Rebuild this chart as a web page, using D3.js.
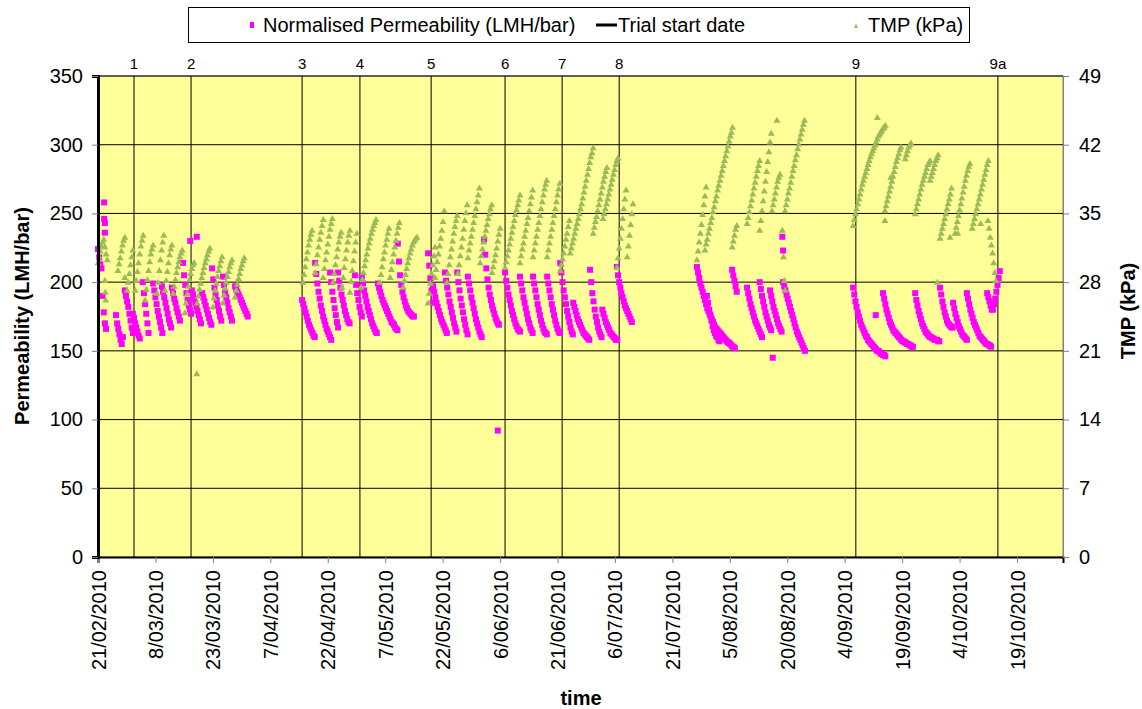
<!DOCTYPE html>
<meta charset="utf-8">
<head>
    <script type="text/javascript" src="https://cdn.jsdelivr.net/npm/d3@7"></script>
    <style>
        body { margin: 0; background: #fff; }
        text { font-family: Arial, "Liberation Sans", sans-serif; }
    </style>
    <title>Permeability and TMP</title>
</head>
<body>
<script>
    // ---- data ----
    // x values are days after 21/02/2010, logger samples every 0.3 day
    var startDate = new Date(2010, 1, 21);
    var lastDay = 252;
    var xTickDays = d3.range(0, 241, 15);
    var permTicks = [0, 50, 100, 150, 200, 250, 300, 350];
    var tmpTicks = [0, 7, 14, 21, 28, 35, 42, 49];
    var sampleStep = 0.3;

    var trialDays = [9.4, 24.3, 53.3, 68.4, 87.0, 106.3, 121.2, 136.1, 197.9, 235.0];
    var trialLabels = ["1", "2", "3", "4", "5", "6", "7", "8", "9", "9a"];

    // normalised permeability (LMH/bar), one run per filtration cycle
    var permStart = [0, 4.7, 7.0, 9.1, 11.7, 14.4, 16.7, 19.3, 22.2, 24.5, 27.2, 29.8, 32.6, 35.8,
        53.3, 56.7, 60.6, 62.7, 67.1, 68.9, 73.1, 78.3,
        86.2, 87.5, 90.6, 93.8, 96.6, 100.8, 106.3, 110.2, 113.6, 117.3, 120.7, 124.1, 128.5, 131.7, 135.5,
        156.4, 159.0, 165.6, 169.5, 172.8, 175.5, 178.9,
        197.2, 205.0, 213.4, 219.9, 223.3, 226.9, 232.2, 233.7];
    var permRuns = [
        [224, 218, 213, 210, 190, 178, 170, 166],
        [176, 170, 166, 162, 158, 155, 160],
        [194, 190, 186, 182, 177, 172, 167, 163],
        [177, 174, 170, 167, 164, 161, 159],
        [200, 192, 184, 177, 170, 163],
        [199, 194, 189, 184, 179, 175, 171, 167, 163],
        [197, 193, 189, 185, 181, 177, 173, 170, 167],
        [196, 192, 188, 185, 181, 178, 175, 172],
        [214, 205, 198, 192, 187, 183, 180, 177],
        [194, 191, 188, 185, 182, 179, 176, 173, 170],
        [192, 189, 186, 183, 180, 177, 174, 171, 169],
        [210, 202, 196, 191, 187, 183, 179, 175, 172],
        [204, 198, 193, 189, 185, 181, 178, 175, 172],
        [197, 195, 193, 191, 189, 187, 185, 183, 181, 179, 177, 175],
        [187, 184, 181, 178, 175, 172, 169, 167, 165, 163, 161, 160],
        [214, 206, 199, 193, 188, 183, 179, 175, 172, 169, 166, 164, 162, 160, 158],
        [207, 200, 193, 187, 181, 176, 171, 167],
        [207, 201, 196, 191, 187, 183, 179, 176, 173, 171, 170],
        [205, 198, 192, 187, 182, 178, 175],
        [204, 199, 194, 190, 186, 182, 179, 176, 173, 170, 168, 166, 164, 163],
        [199, 196, 193, 190, 187, 185, 183, 181, 179, 177, 175, 173, 171, 170, 169, 167, 166, 165],
        [228, 215, 205, 198, 193, 189, 186, 183, 181, 179, 178, 177, 176, 175, 175],
        [221, 212, 203, 194, 185],
        [197, 193, 189, 185, 182, 179, 176, 173, 171, 169, 167, 165, 163],
        [207, 201, 196, 191, 186, 182, 178, 174, 170, 167, 164],
        [207, 200, 194, 188, 183, 178, 173, 169, 165, 162],
        [204, 199, 194, 189, 185, 181, 177, 173, 170, 167, 164, 162, 160],
        [231, 220, 210, 202, 196, 191, 187, 183, 180, 177, 174, 172, 170, 169],
        [207, 201, 196, 191, 187, 183, 179, 176, 173, 170, 168, 166, 165, 164],
        [204, 199, 194, 189, 185, 181, 177, 173, 170, 167, 165, 163],
        [204, 199, 194, 189, 184, 180, 176, 172, 169, 166, 164, 163, 162],
        [204, 199, 194, 189, 184, 180, 176, 172, 169, 166, 164, 163],
        [214, 207, 200, 194, 189, 184, 179, 175, 171, 167, 164, 162],
        [185, 182, 179, 176, 173, 171, 169, 167, 165, 163, 162, 161, 160, 159, 158],
        [209, 200, 192, 186, 180, 175, 171, 167, 164, 162, 160],
        [180, 177, 174, 171, 169, 167, 165, 163, 162, 161, 160, 159, 158, 158],
        [211, 205, 200, 196, 192, 189, 186, 183, 181, 179, 177, 175, 173, 171],
        [211, 207, 203, 199, 196, 193, 190, 187, 184, 181, 179, 177, 175, 173, 171, 169, 167, 166, 165, 164,
            163, 162, 161, 160, 159, 158, 157, 156, 156, 155, 154, 153, 153, 152],
        [190, 185, 180, 176, 172, 168, 165, 163, 161, 160, 158, 157],
        [209, 205, 201, 197, 193],
        [196, 192, 188, 184, 181, 178, 175, 172, 170, 168, 166, 164, 162, 160],
        [200, 195, 190, 186, 182, 178, 175, 172, 169, 167, 165],
        [194, 190, 186, 182, 179, 176, 173, 170, 168, 166, 164],
        [200, 197, 194, 191, 188, 185, 182, 179, 176, 173, 170, 167, 164, 162, 160, 158, 156, 154, 152, 150],
        [196, 191, 186, 182, 178, 175, 172, 169, 167, 165, 163, 161, 160, 158, 157, 156, 155, 154, 153, 152,
            151, 150, 150, 149, 148, 148, 147, 147, 146],
        [192, 188, 184, 180, 177, 174, 171, 169, 167, 165, 164, 163, 162, 161, 160, 159, 158, 157, 157, 156,
            156, 155, 155, 154, 154, 153, 153],
        [192, 187, 183, 179, 176, 173, 170, 168, 166, 164, 163, 162, 161, 160, 160, 159, 159, 158, 158, 158, 157, 157],
        [196, 191, 186, 182, 178, 175, 172, 170, 169, 168, 167, 167],
        [185, 181, 177, 174, 171, 168, 166, 164, 162, 161, 160, 159, 158],
        [192, 188, 184, 180, 177, 174, 171, 169, 167, 165, 163, 161, 160, 159, 158, 157, 156, 155, 155, 154, 154, 153],
        [192, 189, 186, 183, 180],
        [180, 184, 188, 193, 198, 203, 208]
    ];
    var permExtra = [[1.6, 258], [1.6, 246], [1.8, 243], [1.8, 236], [24.1, 230], [25.8, 233],
        [104.4, 92], [178.7, 233], [178.9, 223], [176.2, 145], [203.1, 176]];

    // TMP (kPa), one run per filtration cycle
    var tmpStart = [0, 5.2, 7.6, 9.7, 12.3, 15.4, 17.5, 19.6, 22.7, 25.9, 30.0, 32.6, 35.8,
        53.5, 56.7, 58.8, 61.4, 63.7, 65.8, 68.7, 73.6, 76.3, 79.7,
        86.2, 88.0, 91.1, 94.0, 96.6, 99.8, 102.9, 106.3, 110.2, 113.6, 117.3, 120.7, 123.3, 129.3, 131.9,
        135.5, 138.2, 156.4, 158.5, 165.6, 169.5, 172.8, 176.0, 179.4,
        197.2, 205.5, 210.8, 213.4, 217.3, 219.9, 223.8, 228.3, 232.4];
    var tmpRuns = [
        [30.0, 30.6, 31.2, 31.7, 32.1, 32.4, 31.6, 30.9, 30.3],
        [29.2, 29.9, 30.5, 31.2, 31.8, 32.3, 32.6],
        [27.2, 28.0, 28.9, 29.8, 30.6, 31.3],
        [27.2, 28.2, 29.1, 30.0, 30.9, 31.7, 32.3, 32.8],
        [26.2, 27.3, 28.3, 29.2, 30.1, 30.9, 31.4, 31.8],
        [26.9, 28.0, 29.2, 30.3, 31.3, 32.1, 32.8],
        [27.2, 28.2, 29.1, 30.0, 30.8, 31.4, 31.8],
        [26.9, 27.6, 28.3, 29.0, 29.6, 30.1, 30.6, 31.0, 31.3],
        [24.9, 25.9, 26.8, 27.6, 28.3, 28.9, 29.4, 29.8, 30.0],
        [25.9, 26.6, 27.3, 27.9, 28.5, 29.0, 29.5, 30.0, 30.4, 30.8, 31.2, 31.5],
        [25.5, 26.4, 27.2, 27.9, 28.6, 29.2, 29.7, 30.2, 30.6],
        [25.9, 26.7, 27.4, 28.0, 28.6, 29.1, 29.6, 30.0, 30.3],
        [26.5, 27.2, 27.8, 28.4, 28.9, 29.4, 29.8, 30.2, 30.5],
        [28.0, 28.8, 29.6, 30.4, 31.1, 31.8, 32.4, 32.9, 33.3],
        [29.0, 29.9, 30.8, 31.6, 32.4, 33.1, 33.8, 34.4],
        [28.5, 29.4, 30.3, 31.1, 31.9, 32.7, 33.4, 34.0, 34.5],
        [28.0, 28.9, 29.8, 30.6, 31.4, 32.1, 32.7, 33.1],
        [27.5, 28.5, 29.5, 30.4, 31.3, 32.1, 32.8, 33.3],
        [27.0, 28.1, 29.2, 30.2, 31.2, 32.1, 33.0],
        [27.5, 28.3, 29.0, 29.7, 30.3, 30.9, 31.5, 32.0, 32.5, 33.0, 33.4, 33.8, 34.1, 34.4],
        [28.0, 28.8, 29.6, 30.4, 31.1, 31.8, 32.4, 33.0, 33.5],
        [28.5, 29.3, 30.1, 30.9, 31.6, 32.3, 33.0, 33.6, 34.1],
        [27.5, 28.2, 28.8, 29.4, 30.0, 30.5, 31.0, 31.4, 31.8, 32.1, 32.3, 32.5, 32.6],
        [25.9, 26.9, 27.9, 28.9, 29.8, 30.7, 31.6],
        [28.5, 29.3, 30.1, 30.9, 31.7, 32.5, 33.3, 34.2, 35.3],
        [28.0, 28.9, 29.8, 30.6, 31.4, 32.2, 33.0, 33.7, 34.3, 34.8],
        [28.9, 29.8, 30.7, 31.6, 32.5, 33.4, 34.3, 35.1, 35.9],
        [30.5, 31.3, 32.0, 32.7, 33.4, 34.1, 34.8, 35.5, 36.2, 36.9, 37.6],
        [30.0, 30.7, 31.4, 32.1, 32.7, 33.3, 33.9, 34.5, 35.0, 35.5, 35.9],
        [29.0, 29.6, 30.2, 30.8, 31.5, 32.2, 32.9, 33.5],
        [29.5, 30.1, 30.7, 31.3, 31.9, 32.5, 33.1, 33.7, 34.3, 34.9, 35.4, 35.9, 36.4, 36.9],
        [30.0, 30.7, 31.4, 32.0, 32.7, 33.3, 34.0, 34.6, 35.3, 36.0, 36.7, 37.4],
        [30.6, 31.3, 32.0, 32.7, 33.4, 34.1, 34.8, 35.5, 36.2, 36.9, 37.5, 38.0, 38.4],
        [30.6, 31.3, 32.0, 32.7, 33.4, 34.1, 34.8, 35.5, 36.2, 36.9, 37.5, 38.1],
        [29.2, 29.8, 30.4, 31.0, 31.7, 32.4, 33.0, 33.7, 34.3],
        [31.0, 31.5, 32.0, 32.5, 33.0, 33.5, 34.0, 34.5, 35.0, 35.5, 36.0, 36.6, 37.2, 37.8, 38.4, 39.0, 39.6,
            40.2, 40.8, 41.2, 41.7],
        [33.0, 33.6, 34.2, 34.7, 35.3, 35.9, 36.5, 37.1, 37.7, 38.3, 38.8, 39.3, 39.7],
        [34.5, 35.0, 35.5, 36.0, 36.5, 37.0, 37.5, 38.0, 38.5, 39.0, 39.5, 40.0, 40.4, 40.7],
        [29.5, 30.5, 31.5, 32.5, 33.5, 34.5, 35.5, 36.5, 37.4],
        [30.6, 31.7, 32.8, 33.9, 35.0, 36.0],
        [30.3, 31.2, 32.1, 33.0, 33.9, 34.9, 35.9, 36.8, 37.7],
        [31.3, 31.9, 32.4, 33.0, 33.5, 34.1, 34.6, 35.2, 35.7, 36.3, 36.8, 37.4, 37.9, 38.4, 38.9, 39.4, 39.9,
            40.4, 40.9, 41.4, 41.9, 42.4, 42.9, 43.3, 43.8],
        [31.6, 32.2, 32.8, 33.4, 33.8],
        [34.0, 34.6, 35.2, 35.8, 36.4, 37.0, 37.6, 38.2, 38.8, 39.4, 39.9, 40.4],
        [33.3, 34.3, 35.3, 36.3, 37.3, 38.3, 39.3, 40.3, 41.3, 42.3, 43.2],
        [35.3, 35.9, 36.5, 37.1, 37.7, 38.3, 38.7, 39.0],
        [35.3, 35.9, 36.5, 37.1, 37.6, 38.2, 38.8, 39.4, 39.9, 40.5, 41.0, 41.6, 42.1, 42.6, 43.1, 43.6, 44.1, 44.5],
        [33.8, 34.4, 35.0, 35.5, 36.0, 36.5, 37.0, 37.5, 38.0, 38.4, 38.8, 39.2, 39.6, 40.0, 40.4, 40.8, 41.1,
            41.4, 41.7, 42.0, 42.3, 42.6, 42.9, 43.1, 43.3, 43.5, 43.7, 43.8, 44.0],
        [35.3, 35.8, 36.3, 36.8, 37.3, 37.8, 38.3, 38.8, 39.3, 39.8, 40.3, 40.7, 41.1, 41.5, 41.8],
        [40.6, 41.0, 41.4, 41.8, 42.0, 42.2],
        [35.0, 35.5, 36.0, 36.5, 37.0, 37.5, 38.0, 38.4, 38.8, 39.2, 39.6, 40.0, 40.2, 40.4],
        [38.4, 38.8, 39.2, 39.6, 40.0, 40.4, 40.7, 41.0],
        [32.5, 33.0, 33.5, 34.0, 34.5, 35.0, 35.5, 36.0, 36.5, 37.0, 37.6],
        [33.0, 33.6, 34.2, 34.8, 35.4, 36.0, 36.6, 37.2, 37.8, 38.4, 38.9, 39.4, 39.8, 40.1],
        [33.5, 34.0, 34.5, 35.0, 35.5, 36.0, 36.5, 37.0, 37.5, 38.0, 38.5, 39.0, 39.5, 40.0, 40.4],
        [34.3, 33.5, 32.6, 31.8, 31.0, 30.0, 29.0, 28.2]
    ];
    var tmpExtra = [[25.8, 18.7], [1.8, 28.2], [1.9, 27.0], [2.0, 26.2], [7.0, 28.5], [205.5, 34.3],
        [219.2, 28.0], [203.5, 44.8], [177.3, 44.5], [178.7, 33.3], [179.0, 30.6], [179.2, 28.2],
        [179.4, 27.2], [222.5, 32.6], [224.5, 33.0], [230.5, 34.0], [207.0, 38.7]];

    // ---- layout ----
    var W = 1142, H = 709;
    var plot = {left: 98, right: 1063, top: 76, bottom: 557};

    var svg = d3.select("body").append("svg")
        .attr("width", W)
        .attr("height", H);

    var x = d3.scaleLinear().domain([0, lastDay]).range([plot.left, plot.right]);
    var yP = d3.scaleLinear().domain([0, 350]).range([plot.bottom, plot.top]);
    var yT = d3.scaleLinear().domain([0, 49]).range([plot.bottom, plot.top]);

    // flatten runs into points
    function expand(starts, runs, extra) {
        var pts = [];
        runs.forEach(function(run, i) {
            run.forEach(function(v, j) { pts.push([starts[i] + j * sampleStep, v]); });
        });
        extra.forEach(function(p) { pts.push(p); });
        return pts;
    }
    var permPts = expand(permStart, permRuns, permExtra);
    var tmpPts = expand(tmpStart, tmpRuns, tmpExtra);

    // plot background
    svg.append("rect")
        .attr("x", plot.left).attr("y", plot.top)
        .attr("width", plot.right - plot.left).attr("height", plot.bottom - plot.top)
        .attr("fill", "#FFFF99")
        .attr("stroke", "#808080");

    // horizontal gridlines
    svg.append("g").selectAll("line")
        .data(permTicks.slice(1))
        .enter().append("line")
        .attr("x1", plot.left).attr("x2", plot.right)
        .attr("y1", d => yP(d)).attr("y2", d => yP(d))
        .attr("stroke", "#000").attr("stroke-width", 1);

    // trial start lines
    svg.append("g").selectAll("line")
        .data(trialDays)
        .enter().append("line")
        .attr("x1", d => x(d)).attr("x2", d => x(d))
        .attr("y1", plot.top).attr("y2", plot.bottom)
        .attr("stroke", "#000").attr("stroke-width", 1);

    svg.append("g").selectAll("text")
        .data(trialDays)
        .enter().append("text")
        .attr("x", d => x(d)).attr("y", 69)
        .attr("text-anchor", "middle")
        .attr("font-size", 15)
        .text((d, i) => trialLabels[i]);

    // permeability markers
    svg.append("g").selectAll("rect")
        .data(permPts)
        .enter().append("rect")
        .attr("x", d => x(d[0]) - 3).attr("y", d => yP(d[1]) - 3)
        .attr("width", 6).attr("height", 6)
        .attr("fill", "#FF00FF");

    // TMP markers
    svg.append("g").selectAll("path")
        .data(tmpPts)
        .enter().append("path")
        .attr("transform", d => "translate(" + x(d[0]) + "," + yT(d[1]) + ")")
        .attr("d", "M0,-3.3L3.5,2.7L-3.5,2.7Z")
        .attr("fill", "#9BBB59");

    // axes
    var fmt = d3.timeFormat("%-d/%m/%Y");
    var xAxis = svg.append("g")
        .attr("transform", "translate(0," + plot.bottom + ")")
        .call(d3.axisBottom(x).tickValues(xTickDays).tickSize(6)
            .tickFormat(d => fmt(d3.timeDay.offset(startDate, d))));
    xAxis.select(".domain").attr("stroke", "#000").attr("stroke-width", 2);
    xAxis.selectAll(".tick line").attr("stroke", "#808080");
    xAxis.selectAll(".tick text")
        .attr("font-size", 20).attr("font-family", "Arial, 'Liberation Sans', sans-serif")
        .attr("fill", "#000")
        .attr("transform", "rotate(-90)")
        .attr("text-anchor", "end")
        .attr("x", -13).attr("y", 0).attr("dy", "0.35em");

    var yAxisL = svg.append("g")
        .attr("transform", "translate(" + plot.left + ",0)")
        .call(d3.axisLeft(yP).tickValues(permTicks).tickSize(6).tickPadding(9));
    yAxisL.select(".domain").attr("stroke", "#000").attr("stroke-width", 3);
    yAxisL.selectAll(".tick line").attr("stroke", "#808080");
    yAxisL.selectAll(".tick text").attr("font-size", 20)
        .attr("font-family", "Arial, 'Liberation Sans', sans-serif").attr("fill", "#000");

    var yAxisR = svg.append("g")
        .attr("transform", "translate(" + plot.right + ",0)")
        .call(d3.axisRight(yT).tickValues(tmpTicks).tickSize(6).tickPadding(10));
    yAxisR.select(".domain").attr("stroke", "#808080");
    yAxisR.selectAll(".tick line").attr("stroke", "#808080");
    yAxisR.selectAll(".tick text").attr("font-size", 20)
        .attr("font-family", "Arial, 'Liberation Sans', sans-serif").attr("fill", "#000");

    // axis titles
    svg.append("text")
        .attr("transform", "translate(29,316) rotate(-90)")
        .attr("text-anchor", "middle").attr("font-size", 20).attr("font-weight", "bold")
        .text("Permeability (LMH/bar)");
    svg.append("text")
        .attr("transform", "translate(1135,311) rotate(-90)")
        .attr("text-anchor", "middle").attr("font-size", 20).attr("font-weight", "bold")
        .text("TMP (kPa)");
    svg.append("text")
        .attr("x", 581).attr("y", 705)
        .attr("text-anchor", "middle").attr("font-size", 20).attr("font-weight", "bold")
        .text("time");

    // legend
    var legend = svg.append("g");
    legend.append("rect")
        .attr("x", 188.5).attr("y", 7.5).attr("width", 781).attr("height", 35)
        .attr("fill", "#fff").attr("stroke", "#000");
    legend.append("rect")
        .attr("x", 250).attr("y", 22).attr("width", 4).attr("height", 6)
        .attr("fill", "#FF00FF");
    legend.append("text").attr("x", 263).attr("y", 32).attr("font-size", 20)
        .text("Normalised Permeability (LMH/bar)");
    legend.append("line")
        .attr("x1", 596).attr("x2", 617).attr("y1", 25).attr("y2", 25)
        .attr("stroke", "#000").attr("stroke-width", 3);
    legend.append("text").attr("x", 618).attr("y", 32).attr("font-size", 20)
        .text("Trial start date");
    legend.append("path")
        .attr("transform", "translate(856,26)")
        .attr("d", "M0,-2.5L2,2L-2,2Z")
        .attr("fill", "#9BBB59");
    legend.append("text").attr("x", 868).attr("y", 32).attr("font-size", 20)
        .text("TMP (kPa)");
</script>
</body>
</html>
